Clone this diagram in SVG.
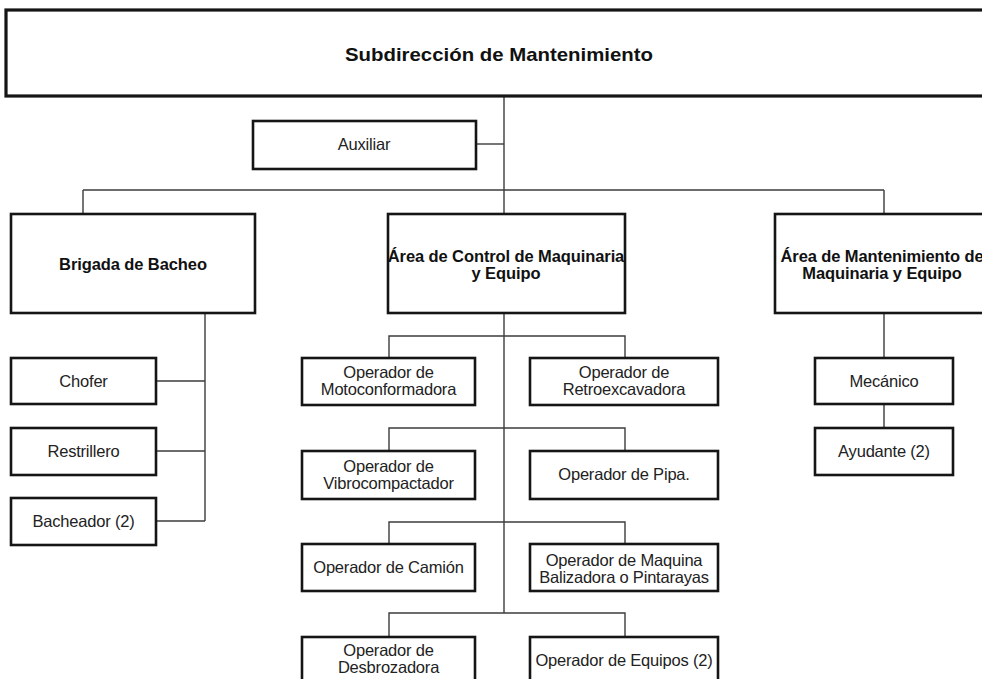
<svg xmlns="http://www.w3.org/2000/svg" width="982" height="679" viewBox="0 0 982 679">
  <style>
    .box { fill: #ffffff; stroke: #151515; stroke-width: 2.6; }
    .top { fill: #ffffff; stroke: #151515; stroke-width: 3.2; }
    .link { fill: none; stroke: #3c3c3c; stroke-width: 1.4; }
    .t { font-family: "Liberation Sans", Arial, sans-serif; font-size: 16.5px; fill: #222; text-anchor: middle; letter-spacing: -0.2px; }
    .b { font-family: "Liberation Sans", Arial, sans-serif; font-size: 16.5px; font-weight: bold; fill: #111; text-anchor: middle; letter-spacing: -0.1px; }
    .title { font-family: "Liberation Sans", Arial, sans-serif; font-size: 19px; font-weight: bold; fill: #111; text-anchor: middle; }
  </style>

  <rect width="982" height="679" fill="#ffffff"/>

  <!-- connectors -->
  <g id="connectors">
    <path class="link" d="M504 96 V613"/>
    <path class="link" d="M476 144 H504"/>
    <path class="link" d="M83 190 H884 M83 190 V214 M884 190 V214"/>
    <path class="link" d="M205 313 V521 M156 381 H205 M156 451 H205 M156 521 H205"/>
    <path class="link" d="M389 358 V336 H625 V358"/>
    <path class="link" d="M389 451 V428 H625 V451"/>
    <path class="link" d="M389 544 V522 H625 V544"/>
    <path class="link" d="M389 637 V613 H625 V637"/>
    <path class="link" d="M884 313 V358 M884 404 V428"/>
  </g>

  <g id="subdireccion">
    <rect class="top" x="6" y="10" width="1000" height="86"/>
    <text class="title" x="499" y="61" textLength="308" lengthAdjust="spacingAndGlyphs">Subdirección de Mantenimiento</text>
  </g>

  <g id="auxiliar">
    <rect class="box" x="253" y="121" width="223" height="48"/>
    <text class="t" x="364" y="150">Auxiliar</text>
  </g>

  <g id="brigada">
    <rect class="box" x="11" y="214" width="244" height="99"/>
    <text class="b" x="133" y="270">Brigada de Bacheo</text>
  </g>

  <g id="area-control">
    <rect class="box" x="388" y="214" width="237" height="99"/>
    <text class="b" x="506" y="262">Área de Control de Maquinaria</text>
    <text class="b" x="506" y="279">y Equipo</text>
  </g>

  <g id="area-mantenimiento">
    <rect class="box" x="775" y="214" width="240" height="99"/>
    <text class="b" x="882" y="262">Área de Mantenimiento de</text>
    <text class="b" x="882" y="279">Maquinaria y Equipo</text>
  </g>

  <g id="chofer">
    <rect class="box" x="11" y="358" width="145" height="46"/>
    <text class="t" x="83.5" y="387">Chofer</text>
  </g>

  <g id="restrillero">
    <rect class="box" x="11" y="428" width="145" height="47"/>
    <text class="t" x="83.5" y="457">Restrillero</text>
  </g>

  <g id="bacheador">
    <rect class="box" x="11" y="498" width="145" height="47"/>
    <text class="t" x="83.5" y="527">Bacheador (2)</text>
  </g>

  <g id="op-motoconformadora">
    <rect class="box" x="302" y="358" width="173" height="47"/>
    <text class="t" x="388.5" y="378">Operador de</text>
    <text class="t" x="388.5" y="395">Motoconformadora</text>
  </g>

  <g id="op-retroexcavadora">
    <rect class="box" x="530" y="358" width="188" height="47"/>
    <text class="t" x="624" y="378">Operador de</text>
    <text class="t" x="624" y="395">Retroexcavadora</text>
  </g>

  <g id="op-vibrocompactador">
    <rect class="box" x="302" y="451" width="173" height="48"/>
    <text class="t" x="388.5" y="472">Operador de</text>
    <text class="t" x="388.5" y="489">Vibrocompactador</text>
  </g>

  <g id="op-pipa">
    <rect class="box" x="530" y="451" width="188" height="48"/>
    <text class="t" x="624" y="480">Operador de Pipa.</text>
  </g>

  <g id="op-camion">
    <rect class="box" x="302" y="544" width="173" height="47"/>
    <text class="t" x="388.5" y="573">Operador de Camión</text>
  </g>

  <g id="op-balizadora">
    <rect class="box" x="530" y="544" width="188" height="47"/>
    <text class="t" x="624" y="566">Operador de Maquina</text>
    <text class="t" x="624" y="583">Balizadora o Pintarayas</text>
  </g>

  <g id="op-desbrozadora">
    <rect class="box" x="302" y="637" width="173" height="50"/>
    <text class="t" x="388.5" y="656">Operador de</text>
    <text class="t" x="388.5" y="673">Desbrozadora</text>
  </g>

  <g id="op-equipos">
    <rect class="box" x="530" y="637" width="188" height="50"/>
    <text class="t" x="624" y="666">Operador de Equipos (2)</text>
  </g>

  <g id="mecanico">
    <rect class="box" x="815" y="358" width="138" height="46"/>
    <text class="t" x="884" y="387">Mecánico</text>
  </g>

  <g id="ayudante">
    <rect class="box" x="815" y="428" width="138" height="47"/>
    <text class="t" x="884" y="457">Ayudante  (2)</text>
  </g>
</svg>
